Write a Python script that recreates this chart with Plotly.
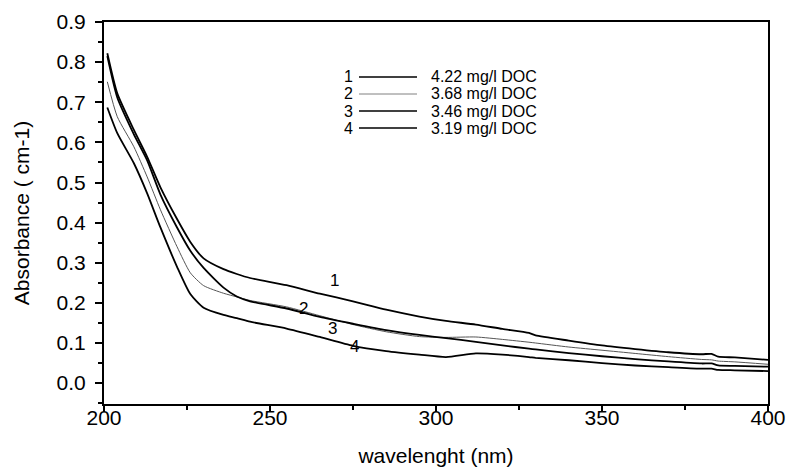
import plotly.graph_objects as go

# ---- data ----
wavelength = [201, 204, 209, 213, 217, 222, 226, 230, 236, 240, 244, 255, 265, 275, 285, 295,
              303, 312, 320, 328, 330, 340, 350, 360, 370, 380, 383, 385, 390, 400]
abs_1 = [0.822, 0.722, 0.631, 0.564, 0.488, 0.409, 0.352, 0.311, 0.284, 0.272, 0.262, 0.244,
         0.223, 0.204, 0.183, 0.166, 0.155, 0.146, 0.135, 0.125, 0.119, 0.106, 0.094, 0.085,
         0.077, 0.072, 0.073, 0.066, 0.064, 0.058]
abs_2 = [0.751, 0.664, 0.589, 0.514, 0.432, 0.340, 0.275, 0.243, 0.224, 0.215, 0.206, 0.190,
         0.168, 0.146, 0.128, 0.116, 0.114, 0.115, 0.109, 0.102, 0.100, 0.090, 0.082, 0.074,
         0.066, 0.059, 0.058, 0.055, 0.053, 0.047]
abs_3 = [0.815, 0.712, 0.620, 0.555, 0.470, 0.388, 0.330, 0.287, 0.238, 0.216, 0.204, 0.186,
         0.165, 0.148, 0.132, 0.120, 0.112, 0.103, 0.094, 0.086, 0.084, 0.075, 0.067, 0.060,
         0.054, 0.049, 0.049, 0.044, 0.043, 0.041]
abs_4 = [0.687, 0.623, 0.548, 0.473, 0.388, 0.290, 0.222, 0.188, 0.170, 0.162, 0.153, 0.136,
         0.115, 0.093, 0.080, 0.071, 0.065, 0.074, 0.071, 0.065, 0.063, 0.057, 0.050, 0.044,
         0.040, 0.036, 0.036, 0.033, 0.032, 0.030]

series_numbers = ["1", "2", "3", "4"]
series_names = ["4.22 mg/l DOC", "3.68 mg/l DOC", "3.46 mg/l DOC", "3.19 mg/l DOC"]
series_values = [abs_1, abs_2, abs_3, abs_4]
series_colors = ["#000000", "#555555", "#000000", "#000000"]
series_widths = [1.8, 1.0, 1.8, 1.8]

# curve label positions (wavelength, absorbance)
label_x = [269.5, 260.0, 268.9, 275.6]
label_y = [0.255, 0.187, 0.136, 0.091]

x_ticks = [200, 250, 300, 350, 400]
y_ticks = [0.0, 0.1, 0.2, 0.3, 0.4, 0.5, 0.6, 0.7, 0.8, 0.9]

FONT = "Liberation Sans, Arial, sans-serif"

fig = go.Figure()
for vals, name, col, w in zip(series_values, series_names, series_colors, series_widths):
    fig.add_trace(go.Scatter(x=wavelength, y=vals, mode="lines", name=name,
                             line=dict(color=col, width=w, shape="spline", smoothing=0.6),
                             showlegend=False))

# curve number labels
for t, lx, ly in zip(series_numbers, label_x, label_y):
    fig.add_annotation(x=lx, y=ly, text=t, showarrow=False,
                       font=dict(family=FONT, size=17, color="black"))

# manual legend (number, line sample, text)
L, R, T, B = 104, 768, 22, 404
def px(xp):
    return (xp - L) / (R - L)
def py(yp):
    return (B - yp) / (B - T)

legend_line_colors = ["#000000", "#808080", "#000000", "#000000"]
legend_line_widths = [1.4, 1.0, 1.4, 1.4]
row_y = [77, 94, 111, 128]
for t, name, col, w, ry in zip(series_numbers, series_names, legend_line_colors,
                               legend_line_widths, row_y):
    fig.add_annotation(xref="paper", yref="paper", x=px(348), y=py(ry), text=t,
                       showarrow=False, xanchor="center", yanchor="middle",
                       font=dict(family=FONT, size=16, color="black"))
    fig.add_shape(type="line", xref="paper", yref="paper",
                  x0=px(359), x1=px(417), y0=py(ry), y1=py(ry),
                  line=dict(color=col, width=w))
    fig.add_annotation(xref="paper", yref="paper", x=px(429), y=py(ry), text=name,
                       showarrow=False, xanchor="left", yanchor="middle",
                       font=dict(family=FONT, size=16, color="black"))

fig.update_xaxes(range=[200, 400], tickvals=x_ticks, ticks="outside", ticklen=6, tickwidth=1.5,
                 tickcolor="black", showline=True, linecolor="black", linewidth=2, mirror=True,
                 showgrid=False, zeroline=False, ticklabelstandoff=-12,
                 minor=dict(tickvals=[225, 275, 325, 375], ticks="outside", ticklen=4,
                            tickcolor="black", tickwidth=1.5),
                 tickfont=dict(family=FONT, size=21, color="black"),
                 title=dict(text="wavelenght (nm)", font=dict(family=FONT, size=21, color="black"),
                            standoff=20))
fig.update_yaxes(range=[-0.052, 0.9], tickvals=y_ticks, tickformat=".1f", ticks="outside",
                 ticklen=7, tickwidth=1.5, tickcolor="black", showline=True, linecolor="black",
                 linewidth=2, mirror=True, showgrid=False, zeroline=False, ticklabelstandoff=5,
                 minor=dict(tickvals=[-0.05, 0.05, 0.15, 0.25, 0.35, 0.45, 0.55, 0.65, 0.75, 0.85],
                            ticks="outside", ticklen=4, tickcolor="black", tickwidth=1.5),
                 tickfont=dict(family=FONT, size=21, color="black"),
                 title=dict(text="Absorbance ( cm-1)", font=dict(family=FONT, size=21, color="black"),
                            standoff=21))

fig.update_layout(width=792, height=474, paper_bgcolor="white", plot_bgcolor="white",
                  margin=dict(l=104, r=24, t=22, b=70, autoexpand=False), showlegend=False)

fig.write_html("out.html", config={"displayModeBar": False},
               post_script="document.body.style.margin='0';document.body.style.overflow='hidden';")
